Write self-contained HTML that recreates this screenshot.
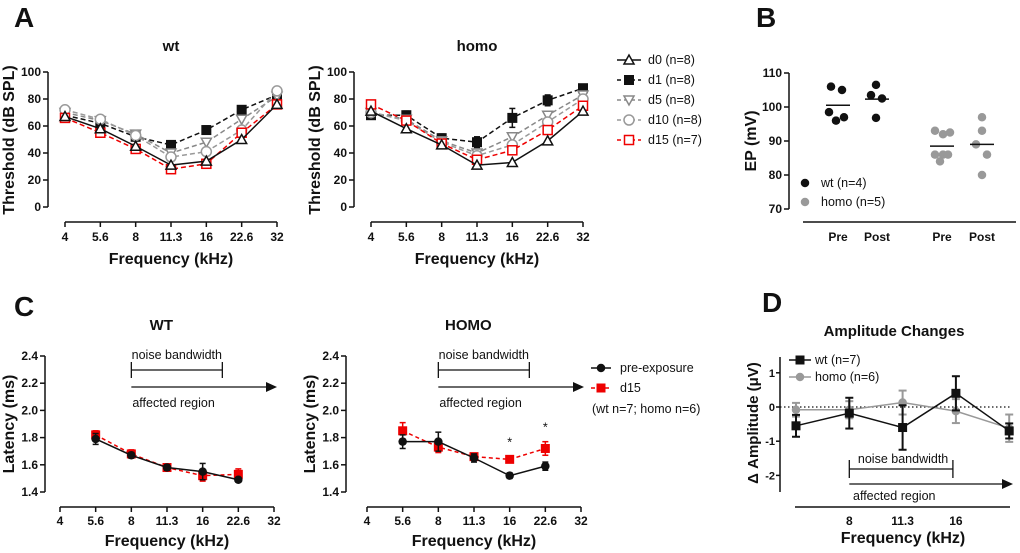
<!DOCTYPE html>
<html><head><meta charset="utf-8"><style>
html,body{margin:0;padding:0;background:#fff;}
svg{display:block;font-family:"Liberation Sans",Arial,sans-serif;}
.tk{font-size:12px;font-weight:bold;fill:#111;}
.tks{font-size:11px;font-weight:bold;fill:#111;}
.ax{font-size:16px;font-weight:bold;fill:#111;}
.axs{font-size:15px;font-weight:bold;fill:#111;}
.tt{font-size:15px;font-weight:bold;fill:#111;}
.lt{font-size:12.5px;fill:#111;}
.pl{font-size:28px;font-weight:bold;fill:#111;}
</style></head><body>
<svg id="fig" width="1020" height="553" viewBox="0 0 1020 553">
<text class="pl" x="14" y="27">A</text>
<text class="pl" x="756" y="27">B</text>
<text class="pl" x="14" y="316">C</text>
<text class="pl" x="762" y="312">D</text>
</svg>
<script>
// ---------- data ----------
const freqLabels = ["4","5.6","8","11.3","16","22.6","32"];
const thrTicks = [0,20,40,60,80,100];
const wtD0 = [67,58,45,31,34,50,76];
const wtD1 = [68,62,52,46,57,72,83];
const wtD5 = [70,64,54,40,48,65,82];
const wtD10 = [72,65,53,37,41,57,86];
const wtD15 = [66,55,43,28,32,55,76];
const wtD1Err = [3,3,3,3,3,3,4];
const hoD0 = [71,58,46,31,33,49,71];
const hoD1 = [68,68,51,48,66,79,88];
const hoD5 = [70,65,49,40,52,68,83];
const hoD10 = [70,64,48,38,46,63,80];
const hoD15 = [76,64,47,35,42,57,75];
const hoD1Err = [3,3,3,4,7,4,2];
const thrSeriesNames = ["d0 (n=8)","d1 (n=8)","d5 (n=8)","d10 (n=8)","d15 (n=7)"];

const epCats = ["Pre","Post","Pre","Post"];
const epTicks = [70,80,90,100,110];
const epWtPre = [106,105,98.5,96,97];
const epWtPost = [106.5,103.5,102.5,96.8];
const epHoPre = [93,92,92.5,86,86,86,84];
const epHoPost = [97,93,89,86,80];

const latTicks = [1.4,1.6,1.8,2.0,2.2,2.4];
const latFreqIdx = [1,2,3,4,5];
const latWtPre = [1.79,1.67,1.58,1.55,1.49];
const latWtPreErr = [0.04,0.02,0.02,0.06,0.01];
const latWtD15 = [1.82,1.68,1.58,1.52,1.53];
const latWtD15Err = [0.03,0.03,0.02,0.04,0.04];
const latHoPre = [1.77,1.77,1.65,1.52,1.59];
const latHoPreErr = [0.05,0.07,0.03,0.02,0.03];
const latHoD15 = [1.85,1.73,1.66,1.64,1.72];
const latHoD15Err = [0.06,0.04,0.02,0.02,0.05];

const ampTicks = [-2,-1,0,1];
const ampWt = [-0.55,-0.18,-0.6,0.4,-0.7];
const ampWtErr = [0.32,0.45,0.65,0.5,0.22];
const ampHo = [-0.08,-0.08,0.13,-0.12,-0.62];
const ampHoErr = [0.2,0.25,0.35,0.35,0.4];
const ampLabels = ["","8","11.3","16",""];

// ---------- helpers ----------
const NS="http://www.w3.org/2000/svg";
const svg=document.getElementById('fig');
function mk(tag,attrs,parent,text){
  const e=document.createElementNS(NS,tag);
  for(const k in attrs)e.setAttribute(k,attrs[k]);
  if(text!==undefined)e.textContent=text;
  (parent||svg).appendChild(e);return e;
}
function grp(name){const g=mk('g',{});
  
  
  return g;}
function line(p,x1,y1,x2,y2,st,w,dash){return mk('line',{x1,y1,x2,y2,stroke:st||'#111','stroke-width':w||1.5,'stroke-dasharray':dash||'none'},p);}
function txt(p,x,y,s,cls,anchor,extra){const a={x,y,class:cls,'text-anchor':anchor||'middle'};Object.assign(a,extra||{});return mk('text',a,p,s);}
function marker(p,type,x,y,col){
  const s=5;
  if(type==='tri')return mk('polygon',{points:`${x},${y-s} ${x-s},${y+s*0.8} ${x+s},${y+s*0.8}`,fill:'#fff',stroke:col,'stroke-width':1.5},p);
  if(type==='itri')return mk('polygon',{points:`${x},${y+s} ${x-s},${y-s*0.8} ${x+s},${y-s*0.8}`,fill:'#fff',stroke:col,'stroke-width':1.5},p);
  if(type==='sq')return mk('rect',{x:x-s,y:y-s,width:2*s,height:2*s,fill:col},p);
  if(type==='osq')return mk('rect',{x:x-s+0.5,y:y-s+0.5,width:2*s-1,height:2*s-1,fill:'#fff',stroke:col,'stroke-width':1.5},p);
  if(type==='oc')return mk('circle',{cx:x,cy:y,r:s,fill:'#fff',stroke:col,'stroke-width':1.5},p);
  if(type==='dot')return mk('circle',{cx:x,cy:y,r:s*0.85,fill:col},p);
  if(type==='sdot')return mk('rect',{x:x-4.5,y:y-4.5,width:9,height:9,fill:col},p);
}
function errbar(p,x,yA,yB,c,w,cap){line(p,x,yA,x,yB,c,w);line(p,x-cap,yA,x+cap,yA,c,w);line(p,x-cap,yB,x+cap,yB,c,w);}
function yAxis(p,x,y0,y1,ticks,sy,fmt,cls){
  line(p,x,y0,x,y1);
  ticks.forEach(t=>{const y=sy(t);line(p,x-5,y,x,y);txt(p,x-7,y+4,fmt?fmt(t):String(t),cls||'tk','end');});
}
function xAxis(p,y,x0,x1,labels,sx,dy){
  line(p,x0,y,x1,y);
  labels.forEach((l,i)=>{const x=sx(i);line(p,x,y,x,y+5);if(l!=='')txt(p,x,y+(dy||19),l,'tk');});
}
function ytitle(p,x,y,s,cls){txt(p,x,y,s,cls||'ax','middle',{transform:`rotate(-90 ${x} ${y})`});}

// ---------- Panel A ----------
const thrStyles=[
  {m:'tri',c:'#111',dash:'none'},
  {m:'sq',c:'#111',dash:'5,3'},
  {m:'itri',c:'#888',dash:'5,3'},
  {m:'oc',c:'#999',dash:'5,3'},
  {m:'osq',c:'#e00',dash:'5,3'}];
function thrPanel(name,ax,x0,x32,title,series,d1Err){
  const g=grp(name);
  const sy=v=>207-v*1.35;
  const sx=i=>x0+(x32-x0)*i/6;
  yAxis(g,ax,72,207,thrTicks,sy);
  xAxis(g,222,x0,x32,freqLabels,sx);
  ytitle(g,ax-34,140,'Threshold (dB SPL)');
  txt(g,(x0+x32)/2,264,'Frequency (kHz)','ax');
  txt(g,(x0+x32)/2,51,title,'tt');
  [1,2,3,4,0].forEach(k=>{
    const s=series[k],st=thrStyles[k];
    const sg=grp(title+'-series-'+k);g.appendChild(sg);
    mk('polyline',{points:s.map((v,i)=>sx(i)+','+sy(v)).join(' '),fill:'none',stroke:st.c,'stroke-width':1.5,'stroke-dasharray':st.dash},sg);
    if(k===1)s.forEach((v,i)=>errbar(sg,sx(i),sy(v+d1Err[i]),sy(v-d1Err[i]),st.c,1.5,3));
    s.forEach((v,i)=>{const m=marker(sg,st.m,sx(i),sy(v),st.c);
      
      });
  });
}
thrPanel('chart-a-wt',48,65,277,'wt',[wtD0,wtD1,wtD5,wtD10,wtD15],wtD1Err);
thrPanel('chart-a-homo',354,371,583,'homo',[hoD0,hoD1,hoD5,hoD10,hoD15],hoD1Err);
(function(){const g=grp('legend-a');
  thrSeriesNames.forEach((n,k)=>{const y=60+20*k,st=thrStyles[k];
    line(g,617,y,641,y,st.c,1.5,st.dash==='none'?'none':'4,3');
    marker(g,st.m,629,y,st.c);
    txt(g,648,y+4,n,'lt','start');});
})();

// ---------- Panel B ----------
(function(){
  const g=grp('chart-b-ep');
  const sy=v=>209-(v-70)*3.4;
  const cx=[838,877,942,982];
  yAxis(g,789,73,209,epTicks,sy);
  line(g,803,222,1016,222);
  epCats.forEach((c,i)=>txt(g,cx[i],241,c,'tk'));
  ytitle(g,756,141,'EP (mV)');
  const offs=[[-7,4,-9,-2,6],[-1,-6,5,-1],[-7,1,8,-7,1,6,-2],[0,0,-6,5,0]];
  const groups=[[epWtPre,'#111'],[epWtPost,'#111'],[epHoPre,'#999'],[epHoPost,'#999']];
  groups.forEach(([arr,col],gi)=>{
    arr.forEach((v,i)=>{const d=marker(g,'dot',cx[gi]+(offs[gi][i]||0),sy(v),col);
      
      });
    const mean=arr.reduce((a,b)=>a+b,0)/arr.length;
    line(g,cx[gi]-12,sy(mean),cx[gi]+12,sy(mean),'#111',1.5);
  });
  marker(g,'dot',805,183,'#111');txt(g,821,187,'wt (n=4)','lt','start');
  marker(g,'dot',805,202,'#999');txt(g,821,206,'homo (n=5)','lt','start');
})();

// ---------- Panel C ----------
function latPanel(name,ax,x0,x32,title,pre,preE,d15,d15E,stars){
  const g=grp(name);
  const sy=v=>492-(v-1.4)*136;
  const sx=i=>x0+(x32-x0)*i/6;
  yAxis(g,ax,356,492,latTicks,sy,t=>t.toFixed(1));
  xAxis(g,507,x0,x32,freqLabels,sx,18);
  ytitle(g,ax-31,424,'Latency (ms)');
  txt(g,(x0+x32)/2,546,'Frequency (kHz)','ax');
  txt(g,sx(2)+30,330,title,'tt');
  const b0=sx(2),b1=sx(2)+91;
  txt(g,(b0+b1)/2,359,'noise bandwidth','lt');
  line(g,b0,370,b1,370,'#111',1.3);line(g,b0,362,b0,378,'#111',1.3);line(g,b1,362,b1,378,'#111',1.3);
  line(g,b0,387,x32-6,387,'#111',1.3);
  mk('polygon',{points:`${x32+3},387 ${x32-8},382 ${x32-8},392`,fill:'#111'},g);
  txt(g,b0+1,407,'affected region','lt','start');
  [[d15,d15E,'#e00','sdot','4,3'],[pre,preE,'#111','dot','none']].forEach(([v,e,c,m,d])=>{
    mk('polyline',{points:v.map((y,i)=>sx(latFreqIdx[i])+','+sy(y)).join(' '),fill:'none',stroke:c,'stroke-width':1.5,'stroke-dasharray':d},g);
    v.forEach((y,i)=>{const x=sx(latFreqIdx[i]);
      errbar(g,x,sy(y+e[i]),sy(y-e[i]),c,1.5,3);
      const p=marker(g,m,x,sy(y),c);
      
      });
  });
  if(stars){[3,4].forEach(i=>{const x=sx(latFreqIdx[i]);txt(g,x,sy(d15[i]+d15E[i])-10,'*','lt');});}
}
latPanel('chart-c-wt',45,60,274,'WT',latWtPre,latWtPreErr,latWtD15,latWtD15Err,false);
latPanel('chart-c-homo',346,367,581,'HOMO',latHoPre,latHoPreErr,latHoD15,latHoD15Err,true);
(function(){const g=grp('legend-c');
  line(g,591,368,611,368,'#111',1.5);marker(g,'dot',601,368,'#111');txt(g,620,372,'pre-exposure','lt','start');
  line(g,591,388,611,388,'#e00',1.5,'4,3');marker(g,'sdot',601,388,'#e00');txt(g,620,392,'d15','lt','start');
  txt(g,592,413,'(wt n=7; homo n=6)','lt','start');
})();

// ---------- Panel D ----------
(function(){
  const g=grp('chart-d-amplitude');
  const sy=v=>407-v*34.2;
  const sx=i=>796+53.3*i;
  line(g,780,357,780,492);
  ampTicks.forEach(t=>{const y=sy(t);line(g,776,y,780,y);txt(g,775,y+4,String(t),'tks','end');});
  line(g,795,507,1010,507);
  ampLabels.forEach((l,i)=>{if(l!==''){txt(g,sx(i),525,l,'tk');}});
  ytitle(g,758,423,'\u0394 Amplitude (\u03bcV)','axs');
  txt(g,894,336,'Amplitude Changes','tt');
  txt(g,903,543,'Frequency (kHz)','ax');
  line(g,780,407,1010,407,'#111',1.2,'1.5,2.5');
  const b0=sx(1),b1=sx(3)-3;
  txt(g,(b0+b1)/2+2,463,'noise bandwidth','lt');
  line(g,b0,469,b1,469,'#111',1.3);line(g,b0,460,b0,478,'#111',1.3);line(g,b1,460,b1,478,'#111',1.3);
  line(g,b0,484,1004,484,'#111',1.3);
  mk('polygon',{points:`1013,484 1002,479 1002,489`,fill:'#111'},g);
  txt(g,853,500,'affected region','lt','start');
  [[ampHo,ampHoErr,'#999','dot'],[ampWt,ampWtErr,'#111','sdot']].forEach(([v,e,c,m])=>{
    mk('polyline',{points:v.map((y,i)=>sx(i)+','+sy(y)).join(' '),fill:'none',stroke:c,'stroke-width':1.5},g);
    v.forEach((y,i)=>{const x=sx(i);
      errbar(g,x,sy(y+e[i]),sy(y-e[i]),c,2,4);
      const p=marker(g,m,x,sy(y),c);
      
      });
  });
  line(g,789,360,811,360,'#111',1.5);marker(g,'sdot',800,360,'#111');txt(g,815,364,'wt (n=7)','lt','start');
  line(g,789,377,811,377,'#999',1.5);marker(g,'dot',800,377,'#999');txt(g,815,381,'homo (n=6)','lt','start');
})();
</script>
</body></html>
